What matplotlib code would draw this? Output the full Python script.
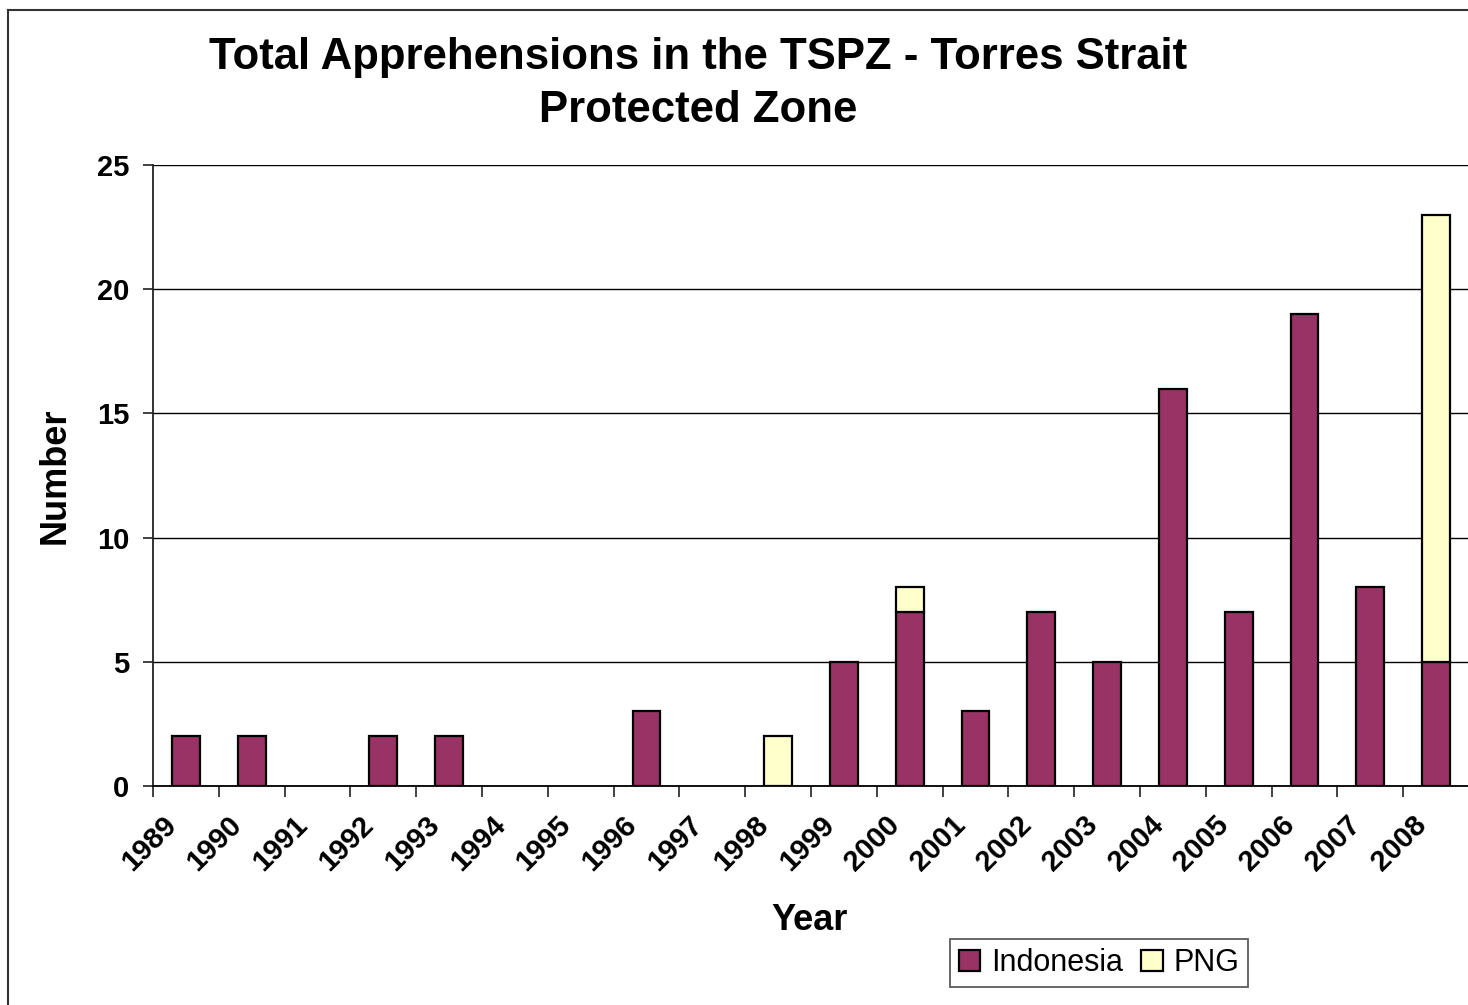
import matplotlib
matplotlib.use("Agg")
import matplotlib.pyplot as plt
from matplotlib.lines import Line2D
from matplotlib.transforms import ScaledTranslation
import numpy as np

years = ["1989", "1990", "1991", "1992", "1993", "1994", "1995", "1996", "1997", "1998",
         "1999", "2000", "2001", "2002", "2003", "2004", "2005", "2006", "2007", "2008"]
indonesia = [2, 2, 0, 2, 2, 0, 0, 3, 0, 0, 5, 7, 3, 7, 5, 16, 7, 19, 8, 5]
png = [0, 0, 0, 0, 0, 0, 0, 0, 0, 2, 0, 1, 0, 0, 0, 0, 0, 0, 0, 18]
yticks = [0, 5, 10, 15, 20, 25]

plt.rcParams['font.family'] = ['Liberation Sans', 'DejaVu Sans']

fig = plt.figure(figsize=(14.68, 10.05), dpi=100)
ax = fig.add_axes([153/1468, 219/1005, (1469-153)/1468, (786-165)/1005])

x = np.arange(len(years))
w = 0.42
ind = np.array(indonesia, dtype=float)
pn = np.array(png, dtype=float)
mi = ind > 0
mp = pn > 0
ax.bar(x[mi], ind[mi], w, color="#993366", edgecolor="black", linewidth=1.6, label="Indonesia", zorder=3)
ax.bar(x[mp], pn[mp], w, bottom=ind[mp], color="#FFFFCC", edgecolor="black", linewidth=1.6, label="PNG", zorder=3)

ax.set_xlim(-0.5, len(years) - 0.5)
ax.set_ylim(0, 25)
ax.set_yticks(yticks)
ax.set_yticklabels([str(v) for v in yticks], fontsize=21, fontweight="bold")
ax.yaxis.grid(True, color="black", linewidth=1.0, zorder=0)
ax.set_axisbelow(True)

# category labels (rotated), placed at category centres with a small offset
ax.set_xticks(np.arange(-0.5, len(years) + 0.5, 1))
ax.set_xticklabels([])
ax.tick_params(axis="x", length=8, width=1.3, color="#333333", direction="out")
ax.tick_params(axis="y", length=7, width=1.3, color="#333333", pad=10)
lab_tr = ax.get_xaxis_transform() + ScaledTranslation(-24/100, -25/100, fig.dpi_scale_trans)
for xi, yr in zip(x, years):
    ax.text(xi, 0, yr, transform=lab_tr, rotation=45, rotation_mode="anchor",
            ha="right", va="top", fontsize=21, fontweight="bold", clip_on=False)

for s in ["top", "right"]:
    ax.spines[s].set_visible(False)
ax.spines["left"].set_color("#222222")
ax.spines["left"].set_linewidth(1.3)
ax.spines["bottom"].set_color("black")
ax.spines["bottom"].set_linewidth(1.3)

ax.set_ylabel("Number", fontsize=26, fontweight="bold")
ax.set_xlabel("Year", fontsize=26, fontweight="bold")
ax.xaxis.set_label_coords((810-153)/(1469-153), -(903-786)/(786-165))
ax.yaxis.set_label_coords(-(153-73)/(1469-153), (786-476)/(786-165))

fig.text(698/1468, 1 - 57/1005, "Total Apprehensions in the TSPZ - Torres Strait",
         ha="center", va="center", fontsize=31.5, fontweight="bold")
fig.text(698/1468, 1 - 110/1005, "Protected Zone",
         ha="center", va="center", fontsize=31.5, fontweight="bold")

leg = fig.legend(loc="center", bbox_to_anchor=(1099/1468, 1 - 963/1005), ncol=2, fontsize=22,
                 frameon=True, fancybox=False, edgecolor="#333333", handlelength=0.7,
                 handleheight=0.7, handletextpad=0.35, columnspacing=0.6, borderpad=0.3,
                 borderaxespad=0)
leg.get_frame().set_linewidth(1.3)

fig.add_artist(Line2D([8/1468, 1], [1 - 10/1005, 1 - 10/1005], color="#333333", linewidth=1.5,
                      transform=fig.transFigure))
fig.add_artist(Line2D([8/1468, 8/1468], [0, 1 - 10/1005], color="#333333", linewidth=1.5,
                      transform=fig.transFigure))

fig.savefig("out.png", dpi=100)
